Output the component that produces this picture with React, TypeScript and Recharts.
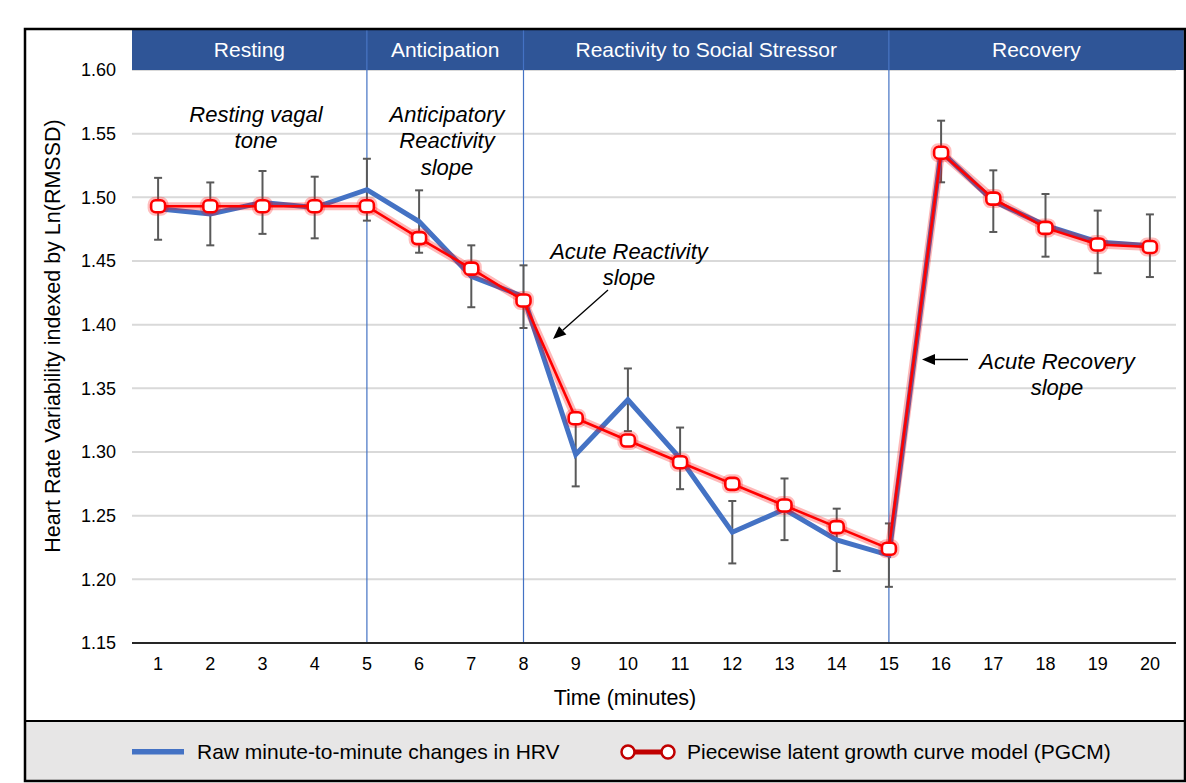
import React from 'react';
import { LineChart, Line, XAxis, YAxis, CartesianGrid, ReferenceLine, ReferenceArea, ErrorBar } from 'recharts';

const minutes = [1, 2, 3, 4, 5, 6, 7, 8, 9, 10, 11, 12, 13, 14, 15, 16, 17, 18, 19, 20];
const rawHRV = [1.491, 1.487, 1.496, 1.492, 1.506, 1.481, 1.438, 1.422, 1.298, 1.341, 1.295, 1.237, 1.255, 1.231, 1.219, 1.536, 1.497, 1.478, 1.465, 1.462];
const pgcmHRV = [1.493, 1.493, 1.493, 1.493, 1.493, 1.468, 1.444, 1.419, 1.3265, 1.309, 1.292, 1.275, 1.258, 1.241, 1.224, 1.535, 1.499, 1.476, 1.463, 1.461];
const rawError = [0.0243, 0.0247, 0.0247, 0.0242, 0.0243, 0.0245, 0.0243, 0.0246, 0.025, 0.0246, 0.0242, 0.0245, 0.0242, 0.0245, 0.0249, 0.0242, 0.0242, 0.0246, 0.0246, 0.0246];
const yTicks = [1.15, 1.2, 1.25, 1.3, 1.35, 1.4, 1.45, 1.5, 1.55, 1.6];
const phaseNames = ['Resting', 'Anticipation', 'Reactivity to Social Stressor', 'Recovery'];
const phaseEdges = [0.5, 5, 8, 15, 20.65];
const phaseDividers = [5, 8, 15];

const data = minutes.map((m, i) => ({ minute: m, raw: rawHRV[i], pgcm: pgcmHRV[i], err: rawError[i] }));

const FONT = '"Liberation Sans", Arial, sans-serif';
const BLUE = '#4472C4';
const HEADER = '#2F5597';
const RED = '#FF0000';

const Arrow = ({ x1, y1, x2, y2 }: { x1: number; y1: number; x2: number; y2: number }) => {
  const dx = x2 - x1;
  const dy = y2 - y1;
  const len = Math.sqrt(dx * dx + dy * dy);
  const ux = dx / len;
  const uy = dy / len;
  const hl = 13;
  const hw = 5.5;
  const bx = x2 - ux * hl;
  const by = y2 - uy * hl;
  const px = -uy * hw;
  const py = ux * hw;
  return (
    <g>
      <line x1={x1} y1={y1} x2={bx} y2={by} stroke="#000" strokeWidth={1.3} />
      <polygon points={`${x2},${y2} ${bx + px},${by + py} ${bx - px},${by - py}`} fill="#000" />
    </g>
  );
};

const Note = ({ x, y, lines }: { x: number; y: number; lines: string[] }) => (
  <g>
    {lines.map((t, i) => (
      <text
        key={i}
        x={x}
        y={y + i * 26.8}
        textAnchor="middle"
        dominantBaseline="central"
        fontStyle="italic"
        fontSize={22}
        fontFamily={FONT}
        fill="#000"
      >
        {t}
      </text>
    ))}
  </g>
);

export default function App() {
  return (
    <div style={{ position: 'absolute', left: 0, top: 0, width: 1186, height: 783, background: '#fff', fontFamily: FONT }}>
      <div style={{ position: 'absolute', left: 0, top: 0 }}>
        <LineChart width={1186} height={783} data={data} margin={{ top: 29, right: 10, bottom: 110, left: 72 }}>
          <CartesianGrid horizontal vertical={false} stroke="#D9D9D9" strokeWidth={2} />
          {phaseNames.map((name, i) => (
            <ReferenceArea
              key={name}
              x1={phaseEdges[i]}
              x2={phaseEdges[i + 1]}
              y1={1.6}
              y2={1.6322}
              ifOverflow="visible"
              fill={HEADER}
              fillOpacity={1}
              stroke="none"
              label={{ value: name, position: 'center', fill: '#fff', fontSize: 21, fontFamily: FONT }}
            />
          ))}
          {phaseDividers.map((d) => (
            <ReferenceLine key={d} x={d} stroke={BLUE} strokeWidth={1.2} ifOverflow="visible" />
          ))}
          <XAxis
            dataKey="minute"
            type="number"
            domain={[0.5, 20.5]}
            ticks={minutes}
            height={30}
            tickSize={0}
            tickMargin={14}
            axisLine={{ stroke: '#262626', strokeWidth: 2 }}
            tick={{ fill: '#000', fontSize: 18, fontFamily: FONT }}
            allowDataOverflow
          />
          <YAxis
            type="number"
            domain={[1.15, 1.6322]}
            ticks={yTicks}
            width={60}
            tickSize={0}
            tickMargin={16}
            axisLine={false}
            tickLine={false}
            tickFormatter={(v: number) => v.toFixed(2)}
            tick={{ fill: '#000', fontSize: 18, fontFamily: FONT }}
            allowDataOverflow
          />
          <Line
            type="linear"
            dataKey="raw"
            stroke={BLUE}
            strokeWidth={5}
            dot={false}
            activeDot={false}
            isAnimationActive={false}
          >
            <ErrorBar dataKey="err" width={4} stroke="#595959" strokeWidth={2} direction="y" />
          </Line>
          <Line
            type="linear"
            dataKey="pgcm"
            stroke="rgba(255,0,0,0.28)"
            strokeWidth={8}
            dot={(p: any) => (
              <rect key={`g${p.index}`} x={p.cx - 9} y={p.cy - 8} width={18} height={16} rx={6} fill="none" stroke="rgba(255,0,0,0.25)" strokeWidth={3} />
            )}
            activeDot={false}
            isAnimationActive={false}
          />
          <Line
            type="linear"
            dataKey="pgcm"
            stroke={RED}
            strokeWidth={2.6}
            dot={(p: any) => (
              <rect key={`d${p.index}`} x={p.cx - 7} y={p.cy - 6} width={14} height={12} rx={4.5} fill="#fff" stroke={RED} strokeWidth={2.6} />
            )}
            activeDot={false}
            isAnimationActive={false}
          />
        </LineChart>
      </div>
      <svg
        width={1186}
        height={783}
        style={{ position: 'absolute', left: 0, top: 0, pointerEvents: 'none' }}
        fontFamily={FONT}
      >
        <text
          x={53}
          y={336}
          transform="rotate(-90 53 336)"
          textAnchor="middle"
          dominantBaseline="central"
          fontSize={21.5}
          fill="#000"
        >
          Heart Rate Variability indexed by Ln(RMSSD)
        </text>
        <text x={625} y={698} textAnchor="middle" dominantBaseline="central" fontSize={21.5} fill="#000">
          Time (minutes)
        </text>

        <Note x={256} y={114} lines={['Resting vagal', 'tone']} />
        <Note x={447} y={114} lines={['Anticipatory', 'Reactivity', 'slope']} />
        <Note x={629} y={251} lines={['Acute Reactivity', 'slope']} />
        <Note x={1057} y={361} lines={['Acute Recovery', 'slope']} />
        <Arrow x1={608} y1={290} x2={553} y2={339} />
        <Arrow x1={968} y1={359.5} x2={922} y2={359.5} />

        <rect x={25} y={721} width={1160} height={60} fill="#E7E6E6" stroke="none" />
        <line x1={25} y1={721} x2={1185} y2={721} stroke="#000" strokeWidth={2} />
        <rect x={132} y={749} width={52} height={5.5} fill={BLUE} />
        <text x={197} y={751} dominantBaseline="central" fontSize={21} fill="#000">
          Raw minute-to-minute changes in HRV
        </text>
        <line x1={628} y1={752} x2={668} y2={752} stroke="#C00000" strokeWidth={5} />
        <circle cx={628} cy={752} r={6.5} fill="#fff" stroke="#C00000" strokeWidth={2.5} />
        <circle cx={668} cy={752} r={6.5} fill="#fff" stroke="#C00000" strokeWidth={2.5} />
        <text x={687} y={751} dominantBaseline="central" fontSize={21} fill="#000">
          Piecewise latent growth curve model (PGCM)
        </text>

        <rect x={25} y={29} width={1160} height={752} fill="none" stroke="#000" strokeWidth={2.5} />
      </svg>
    </div>
  );
}
